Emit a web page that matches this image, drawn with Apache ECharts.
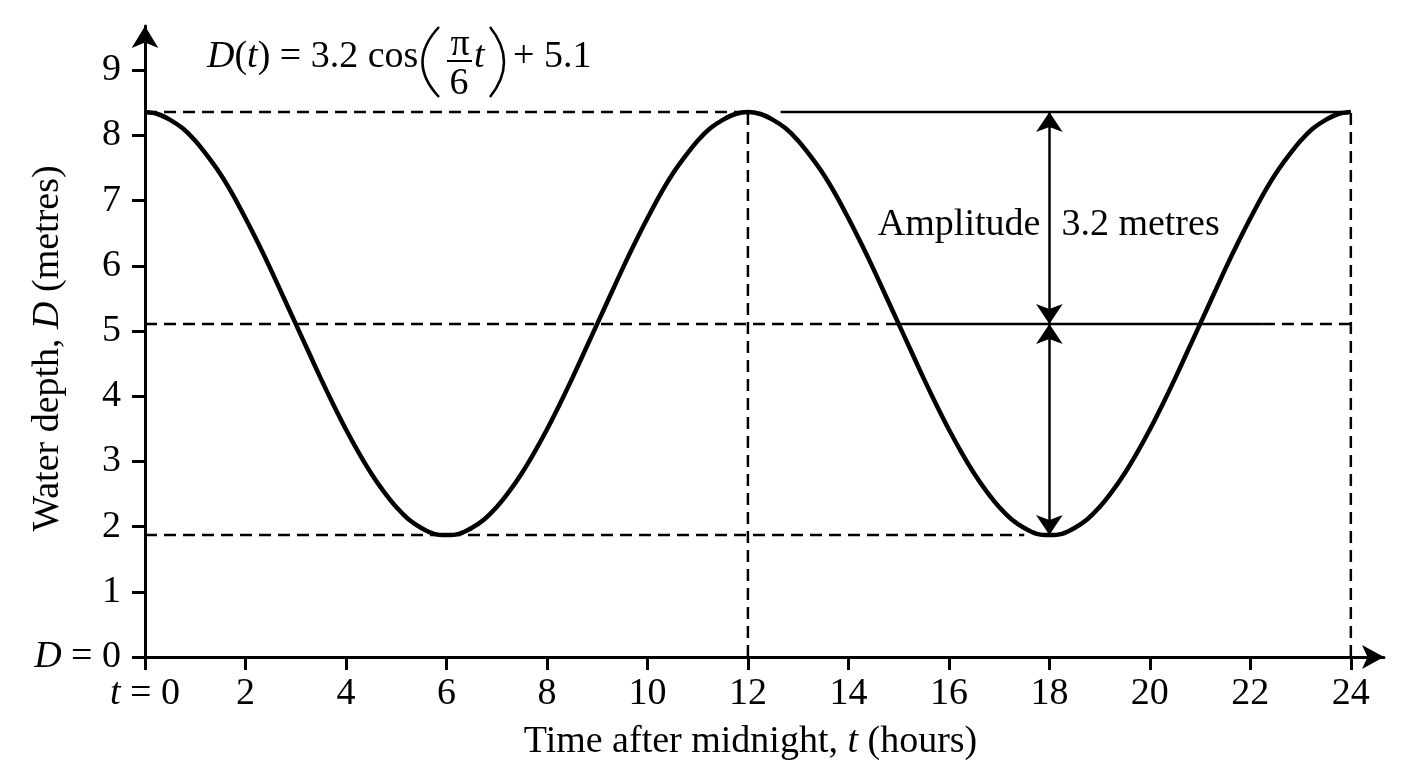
<!DOCTYPE html>
<html>
<head>
<meta charset="utf-8">
<title>Water depth</title>
<script src="https://cdn.jsdelivr.net/npm/echarts@6/dist/echarts.min.js"></script>
<style>
    html, body { margin: 0; padding: 0; background: #fff; }
    #chart { width: 1408px; height: 768px; }
</style>
</head>
<body>
<div id="chart"></div>
<script>
// depth every quarter hour, t = 0 .. 24
const depth = [
    8.36, 8.33, 8.24, 8.11, 7.92, 7.68, 7.41, 7.09, 6.73, 6.35, 5.95, 5.53, 5.11, 4.69, 4.27, 3.87, 3.49, 3.14, 2.82, 2.54, 2.30, 2.11, 1.98, 1.89,
    1.87, 1.89, 1.98, 2.11, 2.30, 2.54, 2.82, 3.14, 3.49, 3.87, 4.27, 4.69, 5.11, 5.53, 5.95, 6.35, 6.73, 7.09, 7.41, 7.68, 7.92, 8.11, 8.24, 8.33,
    8.36, 8.33, 8.24, 8.11, 7.92, 7.68, 7.41, 7.09, 6.73, 6.35, 5.95, 5.53, 5.11, 4.69, 4.27, 3.87, 3.49, 3.14, 2.82, 2.54, 2.30, 2.11, 1.98, 1.89,
    1.87, 1.89, 1.98, 2.11, 2.30, 2.54, 2.82, 3.14, 3.49, 3.87, 4.27, 4.69, 5.11, 5.53, 5.95, 6.35, 6.73, 7.09, 7.41, 7.68, 7.92, 8.11, 8.24, 8.33,
    8.36
];
const hourStep = 0.25;

const xTicks = [0, 2, 4, 6, 8, 10, 12, 14, 16, 18, 20, 22, 24];
const yTicks = [0, 1, 2, 3, 4, 5, 6, 7, 8, 9];

const peakLevel = 8.36;
const meanLevel = 5.11;
const troughLevel = 1.87;

const dashedGuides = [
    [[0, peakLevel], [12, peakLevel]],
    [[0, meanLevel], [15, meanLevel]],
    [[22.25, meanLevel], [24, meanLevel]],
    [[0, troughLevel], [17.5, troughLevel]],
    [[12, 0], [12, peakLevel]],
    [[24, 0], [24, peakLevel]]
];
const solidGuides = [
    [[12.65, peakLevel], [24, peakLevel]],
    [[15, meanLevel], [22.25, meanLevel]]
];
const amplitudeArrows = [
    [[18, peakLevel], [18, meanLevel]],
    [[18, meanLevel], [18, troughLevel]]
];
const amplitudeLabelAt = [18, 6.63];

const FONT = 'Liberation Serif';
const FS = 38;
const chart = echarts.init(document.getElementById('chart'));

const italic = { fontFamily: FONT, fontSize: FS, fontStyle: 'italic', color: '#000' };

const guideSeries = [];
dashedGuides.forEach(seg => guideSeries.push({
    type: 'line', data: seg, showSymbol: false, silent: true, z: 2,
    lineStyle: { color: '#000', width: 2.5, type: [12, 7] }
}));
solidGuides.forEach(seg => guideSeries.push({
    type: 'line', data: seg, showSymbol: false, silent: true, z: 2,
    lineStyle: { color: '#000', width: 2.5 }
}));

const labelSeries = (text, position, distance) => ({
    type: 'scatter', silent: true, symbolSize: 0, z: 6,
    data: [amplitudeLabelAt],
    itemStyle: { opacity: 1 },
    label: { show: true, position: position, distance: distance, formatter: text,
        fontFamily: FONT, fontSize: FS, color: '#000', opacity: 1 }
});

const option = {
    animation: false,
    textStyle: { fontFamily: FONT, color: '#000' },
    grid: { left: 145, right: 24, top: 26, bottom: 111, outerBoundsMode: 'none', containLabel: false },
    xAxis: {
        type: 'value', min: 0, max: 24.66,
        name: 'Time after midnight, {i|t} (hours)',
        nameLocation: 'middle', nameGap: 66, nameMoveOverlap: false,
        nameTextStyle: { fontFamily: FONT, fontSize: FS, color: '#000', padding: [0, 28, 0, 0], rich: { i: italic } },
        splitLine: { show: false },
        axisLine: { lineStyle: { color: '#000', width: 3 }, symbol: ['none', 'arrow'], symbolSize: [18, 22] },
        axisTick: { customValues: xTicks, length: 13, inside: false, lineStyle: { color: '#000', width: 3 } },
        axisLabel: {
            customValues: xTicks, margin: 18, fontFamily: FONT, fontSize: FS, color: '#000',
            formatter: v => v === 0 ? '{i|t} = 0' : String(v),
            rich: { i: italic }
        }
    },
    yAxis: {
        type: 'value', min: 0, max: 9.68,
        name: 'Water depth, {i|D} (metres)',
        nameLocation: 'middle', nameGap: 78, nameMoveOverlap: false,
        nameTextStyle: { fontFamily: FONT, fontSize: FS, color: '#000', padding: [0, 14, 0, 0], rich: { i: italic } },
        splitLine: { show: false },
        axisLine: { lineStyle: { color: '#000', width: 3 }, symbol: ['none', 'arrow'], symbolSize: [20, 22] },
        axisTick: { customValues: yTicks, length: 13, inside: false, lineStyle: { color: '#000', width: 3 } },
        axisLabel: {
            customValues: yTicks, margin: 24, fontFamily: FONT, fontSize: FS, color: '#000',
            formatter: v => v === 0 ? '{i|D} = 0' : String(v),
            rich: { i: italic }
        }
    },
    series: guideSeries.concat([
        {
            type: 'line',
            data: depth.map((d, i) => [i * hourStep, d]),
            smooth: 0.3, showSymbol: false, z: 5,
            lineStyle: { color: '#000', width: 4.5 },
            markLine: {
                silent: true, symbol: ['arrow', 'arrow'], symbolSize: 20,
                label: { show: false },
                lineStyle: { color: '#000', width: 2.5, type: 'solid' },
                data: amplitudeArrows.map(a => [{ coord: a[0] }, { coord: a[1] }])
            }
        },
        labelSeries('Amplitude', 'left', 9),
        labelSeries('3.2 metres', 'right', 12)
    ]),
    // formula in the top-left corner
    graphic: [
        { type: 'text', x: 207, y: 38, style: {
            text: '{i|D}({i|t}) = 3.2 cos', font: FS + 'px "Liberation Serif"', fill: '#000', verticalAlign: 'top',
            rich: { i: { fontFamily: FONT, fontSize: FS, fontStyle: 'italic' } } } },
        { type: 'bezierCurve', shape: { x1: 439, y1: 27, cpx1: 406, cpy1: 62, x2: 439, y2: 97 },
            style: { stroke: '#000', lineWidth: 2.5, fill: 'none' } },
        { type: 'text', x: 460, y: 26, style: { text: 'π', font: FS + 'px "Liberation Serif"', fill: '#000',
            align: 'center', verticalAlign: 'top' } },
        { type: 'line', shape: { x1: 447, y1: 61, x2: 472, y2: 61 }, style: { stroke: '#000', lineWidth: 2 } },
        { type: 'text', x: 459, y: 65, style: { text: '6', font: FS + 'px "Liberation Serif"', fill: '#000',
            align: 'center', verticalAlign: 'top' } },
        { type: 'text', x: 474, y: 38, style: { text: 't', font: 'italic ' + FS + 'px "Liberation Serif"', fill: '#000',
            align: 'left', verticalAlign: 'top' } },
        { type: 'bezierCurve', shape: { x1: 490, y1: 27, cpx1: 518, cpy1: 62, x2: 490, y2: 97 },
            style: { stroke: '#000', lineWidth: 2.5, fill: 'none' } },
        { type: 'text', x: 513, y: 38, style: { text: '+ 5.1', font: FS + 'px "Liberation Serif"', fill: '#000',
            align: 'left', verticalAlign: 'top' } }
    ]
};

chart.setOption(option);
window.addEventListener('resize', () => chart.resize());
</script>
</body>
</html>
